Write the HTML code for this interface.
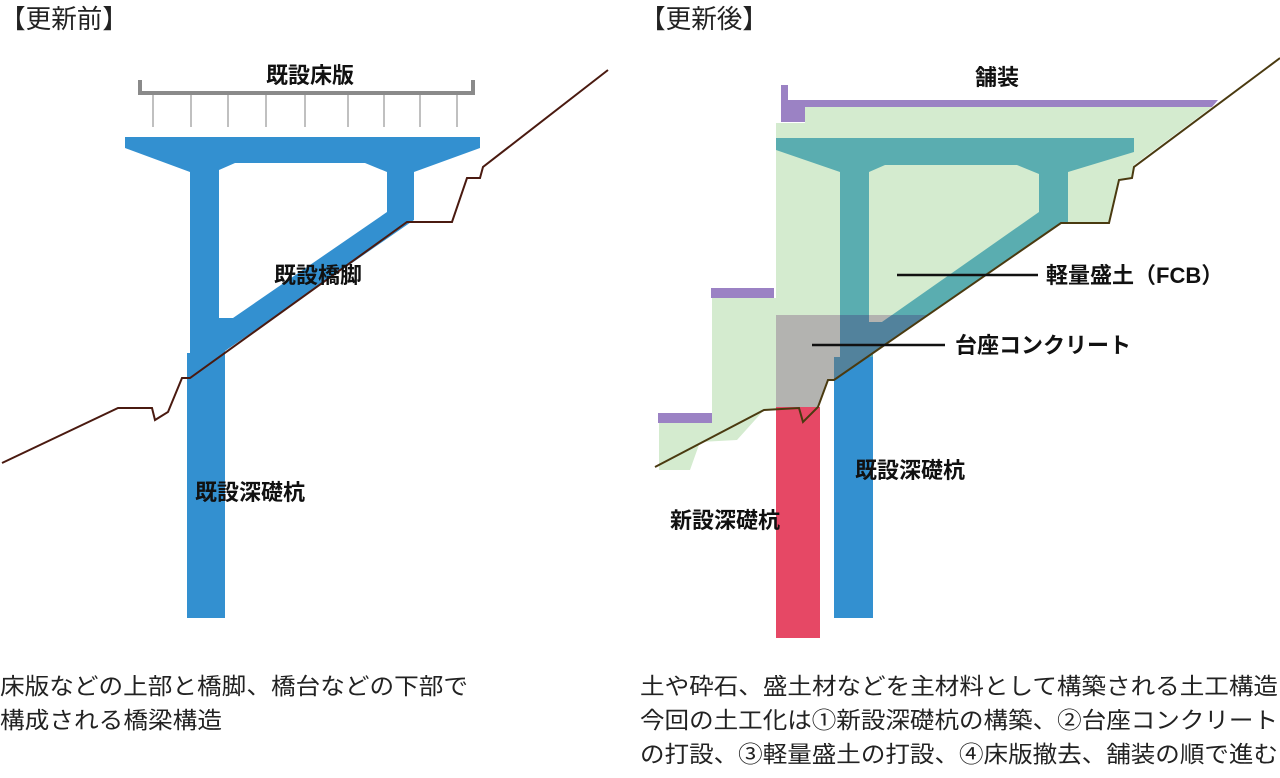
<!DOCTYPE html>
<html><head><meta charset="utf-8"><style>
html,body{margin:0;padding:0;background:#fff;}
svg{display:block;}
text{font-family:"Liberation Sans","Noto Sans CJK JP",sans-serif;}
.b{font-weight:bold;font-size:22px;fill:#111;}
.t{font-size:23px;fill:#222;}
.h{font-size:26px;fill:#222;}
</style></head><body>
<svg width="1280" height="778" viewBox="0 0 1280 778" xmlns="http://www.w3.org/2000/svg">
<defs>
<clipPath id="gc"><polygon points="776,315 929,315 834,380 828,380 818,407 776,407"/></clipPath>
</defs>
<text class="h" x="0" y="28" textLength="128" lengthAdjust="spacingAndGlyphs">【更新前】</text>
<text class="h" x="640" y="28" textLength="128" lengthAdjust="spacingAndGlyphs">【更新後】</text>

<!-- LEFT -->
<g stroke="#8a8a8a" fill="none">
<path d="M140,80 V93 H473 V80" stroke-width="4"/>
<g stroke-width="1.5" stroke="#aaa">
<line x1="153" y1="95" x2="153" y2="127"/><line x1="191" y1="95" x2="191" y2="127"/><line x1="228" y1="95" x2="228" y2="127"/><line x1="266" y1="95" x2="266" y2="127"/><line x1="305" y1="95" x2="305" y2="127"/><line x1="348" y1="95" x2="348" y2="127"/><line x1="384" y1="95" x2="384" y2="127"/><line x1="420" y1="95" x2="420" y2="127"/><line x1="457" y1="95" x2="457" y2="127"/>
</g></g>
<path fill="#3390d0" fill-rule="evenodd" d="M125,137 H480 V148 L414,172 V220 L225,351 V618 H187 V353 H190 V172 L125,148 Z M219,170 L235,163 H365 L387,172 V212 L233,318 H219 Z"/>
<polyline fill="none" stroke="#4a1a10" stroke-width="2" points="2,463 118,408 152,408 155,420 168,412 182,378 190,378 407,222 452,222 467,178 480,178 483,167 608,70"/>
<text class="b" x="310" y="83" text-anchor="middle">既設床版</text>
<text class="b" x="318" y="283" text-anchor="middle">既設橋脚</text>
<text class="b" x="250" y="500" text-anchor="middle">既設深礎杭</text>

<!-- RIGHT -->
<polygon fill="#d4ebcf" points="805,107 1212,107 1134,165 1132,178 1119,180 1109,223 1061,223 834,380 828,380 818,407 803,422 799,408 764,410 737,440 700,442 690,470 659,470 659,423 712,423 712,298 776,298 776,123 805,123"/>
<g fill="#9b82c4">
<path d="M781,85 H788 V100 H1218 L1212,107 H805 V122 H781 Z"/>
<rect x="711" y="288" width="63" height="10"/>
<rect x="658" y="413" width="54" height="10"/>
</g>
<rect x="776" y="407" width="44" height="231" fill="#e64865"/>
<rect x="834" y="357" width="39" height="261" fill="#3390d0"/>
<polygon fill="#b3b3b0" points="776,315 929,315 834,380 828,380 818,407 776,407"/>
<path fill="#5aadb0" fill-rule="evenodd" d="M776,138 H1134 V152 L1068,172 V223 L1061,223 L873,352 V357 H840 V172 L776,150 Z M869,172 L885,165 H1017 L1039,174 V212 L882,322 H869 Z"/>
<g clip-path="url(#gc)">
<path fill="#52829c" fill-rule="evenodd" d="M776,138 H1134 V152 L1068,172 V223 L1061,223 L873,352 V357 H840 V172 L776,150 Z M869,172 L885,165 H1017 L1039,174 V212 L882,322 H869 Z"/>
<rect x="834" y="357" width="39" height="30" fill="#52829c"/>
</g>
<polyline fill="none" stroke="#4a3a10" stroke-width="2" points="655,467 764,410 799,408 803,422 818,407 828,380 834,380 1061,223 1109,223 1119,180 1132,178 1134,167 1268,67 1280,58"/>
<line x1="897" y1="275" x2="1038" y2="275" stroke="#111" stroke-width="2.5"/>
<line x1="812" y1="345" x2="945" y2="345" stroke="#111" stroke-width="2.5"/>
<text class="b" x="997" y="85" text-anchor="middle">舗装</text>
<text class="b" x="1046" y="283">軽量盛土（FCB）</text>
<text class="b" x="955" y="353">台座コンクリート</text>
<text class="b" x="855" y="478">既設深礎杭</text>
<text class="b" x="670" y="528">新設深礎杭</text>

<!-- captions -->
<text class="t" x="0" y="694" textLength="468" lengthAdjust="spacingAndGlyphs">床版などの上部と橋脚、橋台などの下部で</text>
<text class="t" x="0" y="728" textLength="222" lengthAdjust="spacingAndGlyphs">構成される橋梁構造</text>
<text class="t" x="640" y="694" textLength="638" lengthAdjust="spacingAndGlyphs">土や砕石、盛土材などを主材料として構築される土工構造</text>
<text class="t" x="640" y="728" textLength="638" lengthAdjust="spacingAndGlyphs">今回の土工化は①新設深礎杭の構築、②台座コンクリート</text>
<text class="t" x="640" y="762" textLength="638" lengthAdjust="spacingAndGlyphs">の打設、③軽量盛土の打設、④床版撤去、舗装の順で進む</text>
</svg>
</body></html>
